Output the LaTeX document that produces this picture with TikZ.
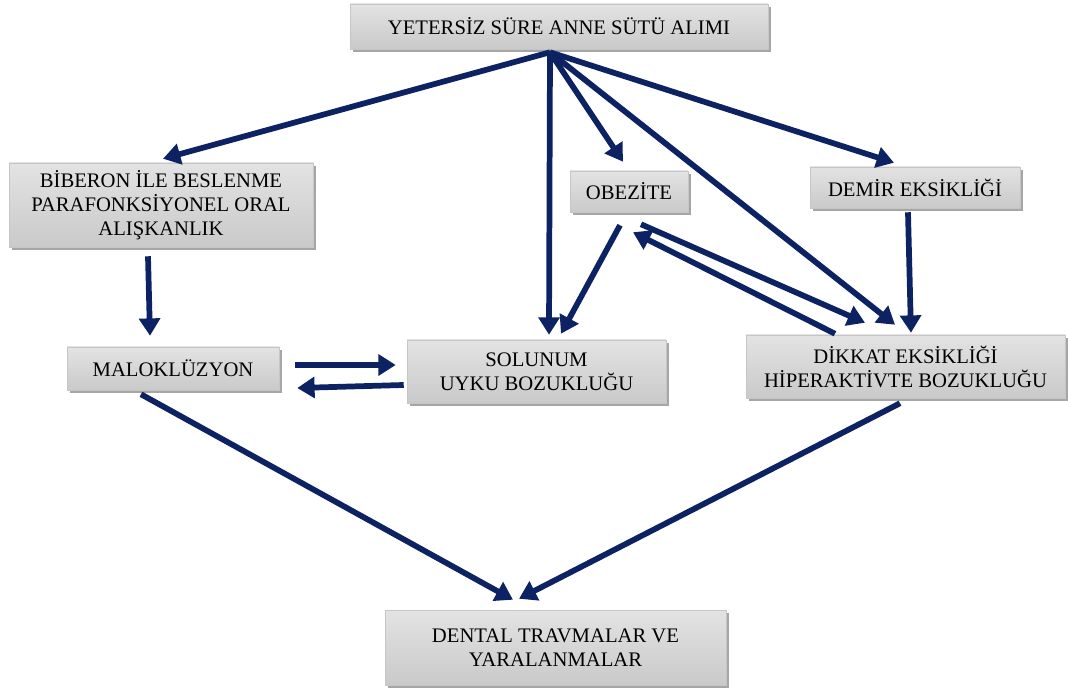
\documentclass[tikz,border=0pt]{standalone}
\usepackage{fontspec}
\setmainfont{Liberation Serif}
\usetikzlibrary{arrows.meta,shadows}
\definecolor{navy}{RGB}{12,34,98}
\tikzset{
  box/.style={draw=gray!45, line width=0.4pt, top color=gray!22, middle color=gray!3, bottom color=gray!42,
    drop shadow={shadow xshift=2.6pt, shadow yshift=-2.6pt, fill=gray!70, opacity=1},
    inner sep=0pt, align=center, font=\fontsize{15.5}{18}\selectfont, text=black},
  conn/.style={draw=navy, line width=4.3pt, -{Triangle[length=13pt,width=15.5pt]}}
}
\begin{document}
\begin{tikzpicture}[x=0.75pt,y=-0.75pt]
\useasboundingbox (0,0) rectangle (1068,691);
\node[box, minimum width=418*0.75pt, minimum height=45*0.75pt] (top) at (559,26.5) {YETERSİZ SÜRE ANNE SÜTÜ ALIMI};
\node[box, minimum width=304*0.75pt, minimum height=84*0.75pt] (bib) at (161,205) {BİBERON İLE BESLENME\\PARAFONKSİYONEL ORAL\\ALIŞKANLIK};
\node[box, minimum width=118*0.75pt, minimum height=41*0.75pt] (obe) at (629,191.5) {OBEZİTE};
\node[box, minimum width=210*0.75pt, minimum height=41*0.75pt] (dem) at (915,187.5) {DEMİR EKSİKLİĞİ};
\node[box, minimum width=212*0.75pt, minimum height=43*0.75pt] (mal) at (173,368.5) {MALOKLÜZYON};
\node[box, minimum width=259*0.75pt, minimum height=63*0.75pt] (sol) at (536.5,371.5) {SOLUNUM\\UYKU BOZUKLUĞU};
\node[box, minimum width=319*0.75pt, minimum height=63*0.75pt] (dik) at (905.5,366.5) {DİKKAT EKSİKLİĞİ\\HİPERAKTİVTE BOZUKLUĞU};
\node[box, minimum width=341*0.75pt, minimum height=75*0.75pt] (den) at (555.5,647.5) {DENTAL TRAVMALAR VE\\YARALANMALAR};

\coordinate (o) at ([shift={(-9,3)}]top.south);
\draw[conn] (o) -- ([shift={(2,-4)}]bib.north);
\draw[conn] (o) -- ([shift={(12.5,-5)}]sol.north);
\draw[conn] (o) -- ([shift={(-6,-9)}]obe.north);
\draw[conn] (o) -- ([shift={(-10.5,-10)}]dik.north);
\draw[conn] (o) -- ([shift={(-21,-4)}]dem.north);

\draw[conn] ([shift={(-13,9)}]bib.south) -- ([shift={(-23,-11)}]mal.north);
\draw[conn] ([shift={(-9,13)}]obe.south) -- ([shift={(24.5,-6)}]sol.north);
\draw[conn] ([shift={(12,12)}]obe.south) -- ([shift={(-40.5,-12)}]dik.north);
\draw[conn] ([shift={(-70.5,-1)}]dik.north) -- ([shift={(4,20)}]obe.south);
\draw[conn] ([shift={(-7,4)}]dem.south) -- ([shift={(5.5,-2)}]dik.north);
\draw[conn] ([shift={(16,-3.5)}]mal.east) -- ([shift={(-11,-6.5)}]sol.west);
\draw[conn] ([shift={(-3,13.5)}]sol.west) -- ([shift={(18,19.5)}]mal.east);
\draw[conn] ([shift={(-32,4)}]mal.south) -- ([shift={(-42.5,-10)}]den.north);
\draw[conn] ([shift={(-5.5,5)}]dik.south) -- ([shift={(-36.5,-11)}]den.north);
\end{tikzpicture}
\end{document}
